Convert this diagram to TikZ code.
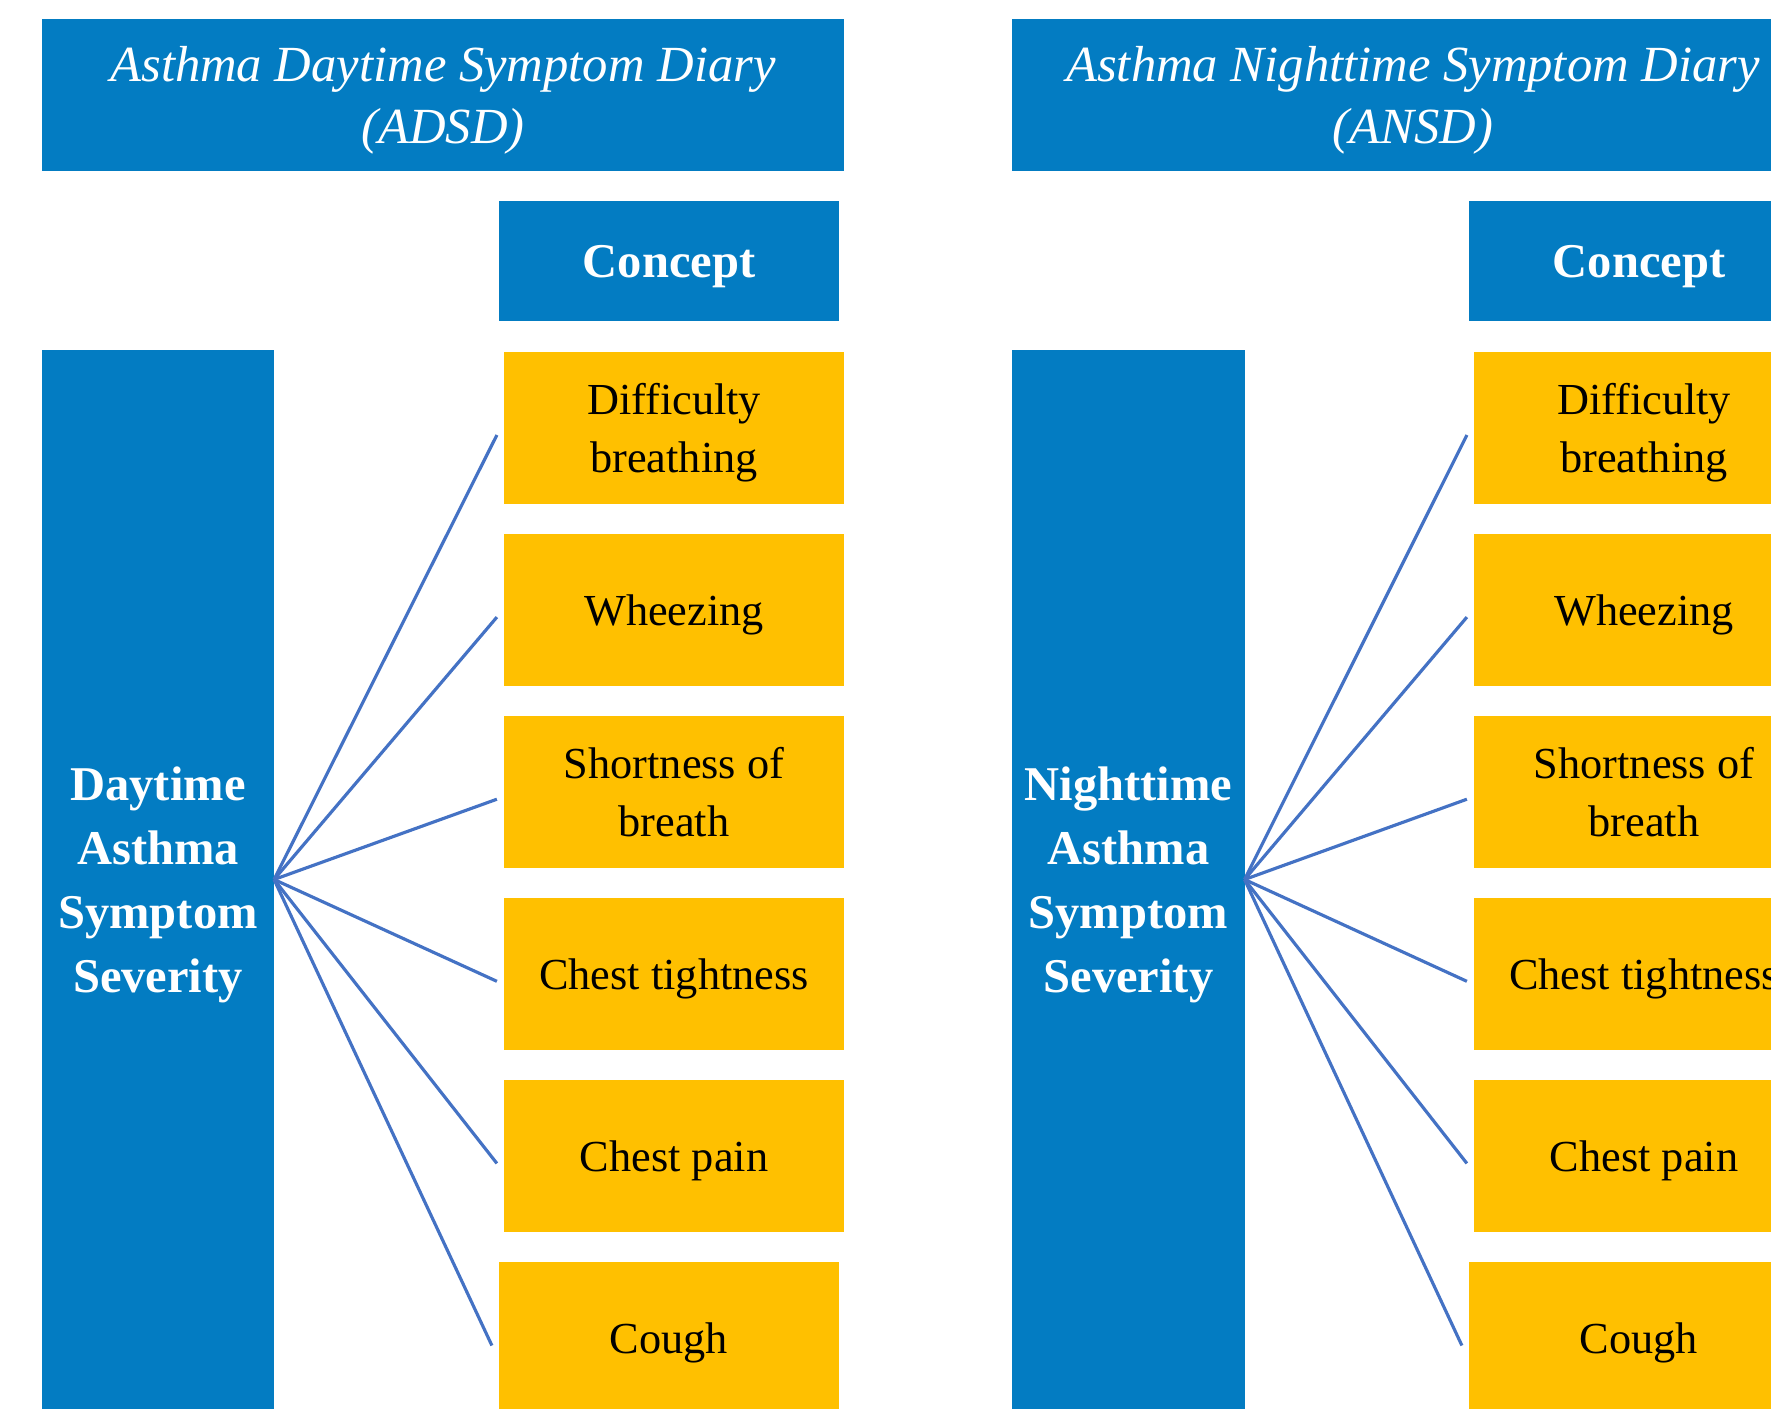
\documentclass[tikz,border=0pt]{standalone}
\usepackage{fontspec}
\setmainfont{Liberation Serif}
\usetikzlibrary{positioning}
\definecolor{DiaryBlue}{HTML}{037CC2}
\definecolor{ItemGold}{HTML}{FFC000}
\definecolor{FanBlue}{HTML}{4472C4}

\begin{document}
\begin{tikzpicture}[
x=0.01cm,y=-0.01cm,
node distance=3mm,
every node/.style={inner sep=0pt,outer sep=0pt,text depth=-1pt},
title/.style={fill=DiaryBlue,text=white,align=center,minimum width=8.02cm,minimum height=1.52cm,font=\fontsize{14.4}{17.6}\selectfont\itshape},
concept/.style={fill=DiaryBlue,text=white,minimum width=3.4cm,minimum height=1.2cm,font=\fontsize{13.8}{16}\selectfont\bfseries},
side/.style={fill=DiaryBlue,text=white,align=center,minimum width=2.32cm,minimum height=10.59cm,font=\fontsize{13.8}{18.2}\selectfont\bfseries},
item/.style={fill=ItemGold,text=black,align=center,minimum width=3.4cm,minimum height=1.52cm,font=\fontsize{12.6}{16.4}\selectfont},
fan/.style={FanBlue,line width=0.9pt}
]
\useasboundingbox (0,0) rectangle (1771,1409);
\clip (0,0) rectangle (1771,1409);
% daytime diary
\node[title] (dtitle) at (443,95) {Asthma Daytime Symptom Diary\\(ADSD)};
\node[concept] (dconcept) at (669,261) {Concept};
\node[side] (dside) at (158,879.5) {Daytime\\Asthma\\Symptom\\Severity};
\node[item] (d1) at (674,428) {Difficulty\\breathing};
\node[item,below=of d1] (d2) {Wheezing};
\node[item,below=of d2] (d3) {Shortness of\\breath};
\node[item,below=of d3] (d4) {Chest tightness};
\node[item,below=of d4] (d5) {Chest pain};
\node[item,below=of d5,xshift=-0.05cm] (d6) {Cough};
\draw[fan] (dside.east) -- ([xshift=-0.07cm,yshift=-0.07cm]d1.west);
\draw[fan] (dside.east) -- ([xshift=-0.07cm,yshift=-0.07cm]d2.west);
\draw[fan] (dside.east) -- ([xshift=-0.07cm,yshift=-0.07cm]d3.west);
\draw[fan] (dside.east) -- ([xshift=-0.07cm,yshift=-0.07cm]d4.west);
\draw[fan] (dside.east) -- ([xshift=-0.07cm,yshift=-0.07cm]d5.west);
\draw[fan] (dside.east) -- ([xshift=-0.07cm,yshift=-0.07cm]d6.west);
% nighttime diary
\node[title] (ntitle) at (1413,95) {Asthma Nighttime Symptom Diary\\(ANSD)};
\node[concept] (nconcept) at (1639,261) {Concept};
\node[side] (nside) at (1128.5,879.5) {Nighttime\\Asthma\\Symptom\\Severity};
\node[item] (n1) at (1644,428) {Difficulty\\breathing};
\node[item,below=of n1] (n2) {Wheezing};
\node[item,below=of n2] (n3) {Shortness of\\breath};
\node[item,below=of n3] (n4) {Chest tightness};
\node[item,below=of n4] (n5) {Chest pain};
\node[item,below=of n5,xshift=-0.05cm] (n6) {Cough};
\draw[fan] (nside.east) -- ([xshift=-0.07cm,yshift=-0.07cm]n1.west);
\draw[fan] (nside.east) -- ([xshift=-0.07cm,yshift=-0.07cm]n2.west);
\draw[fan] (nside.east) -- ([xshift=-0.07cm,yshift=-0.07cm]n3.west);
\draw[fan] (nside.east) -- ([xshift=-0.07cm,yshift=-0.07cm]n4.west);
\draw[fan] (nside.east) -- ([xshift=-0.07cm,yshift=-0.07cm]n5.west);
\draw[fan] (nside.east) -- ([xshift=-0.07cm,yshift=-0.07cm]n6.west);
\end{tikzpicture}
\end{document}
